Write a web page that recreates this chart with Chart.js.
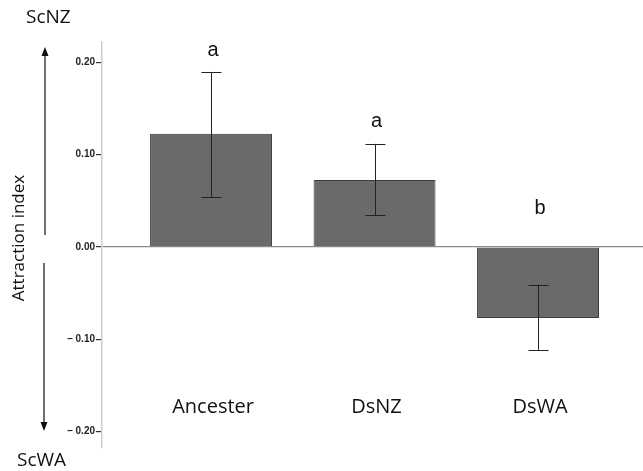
<!DOCTYPE html>
<html>
<head>
<meta charset="utf-8">
<script src="https://cdn.jsdelivr.net/npm/chart.js@4"></script>
<style>
  html, body { margin: 0; padding: 0; background: #fff; }
  #wrap { width: 643px; height: 471px; position: relative; }
</style>
</head>
<body>
<div id="wrap"><canvas id="chart"></canvas></div>
<script>
// values
const groups = ['Ancester', 'DsNZ', 'DsWA'];
const means = [0.1225, 0.0725, -0.077];
const errLow = [0.054, 0.034, -0.1116];
const errHigh = [0.1896, 0.1116, -0.041];
const letters = ['a', 'a', 'b'];
const yTicks = [-0.2, -0.1, 0, 0.1, 0.2];

// text around the plot: letters, category names, axis title, arrows
const decorations = {
    id: 'decorations',
    afterDatasetsDraw(chart) {
        const { ctx } = chart;
        const x = chart.scales.x;
        const y = chart.scales.y;

        // error bars
        ctx.save();
        ctx.strokeStyle = '#222';
        ctx.lineWidth = 1;
        groups.forEach((g, i) => {
            const px = Math.round(x.getPixelForValue(i)) + 0.5;
            const top = y.getPixelForValue(errHigh[i]);
            const bot = y.getPixelForValue(errLow[i]);
            ctx.beginPath();
            ctx.moveTo(px, top); ctx.lineTo(px, bot);
            ctx.moveTo(px - 10, Math.round(top) + 0.5); ctx.lineTo(px + 10, Math.round(top) + 0.5);
            ctx.moveTo(px - 10, Math.round(bot) + 0.5); ctx.lineTo(px + 10, Math.round(bot) + 0.5);
            ctx.stroke();
        });

        // significance letters
        ctx.fillStyle = '#111';
        ctx.font = '20px "Liberation Sans", Arial, sans-serif';
        ctx.textAlign = 'center';
        ctx.textBaseline = 'middle';
        const letterY = [0.213, 0.136, 0.042];
        groups.forEach((g, i) => {
            ctx.fillText(letters[i], x.getPixelForValue(i) + 2, y.getPixelForValue(letterY[i]));
        });

        // category names
        ctx.font = '20px "Open Sans", sans-serif';
        groups.forEach((g, i) => {
            ctx.fillText(g, x.getPixelForValue(i) + 2, 407);
        });

        // side labels
        ctx.font = '19px "Open Sans", sans-serif';
        ctx.textAlign = 'left';
        ctx.fillText('ScNZ', 26, 18);
        ctx.fillText('ScWA', 17, 461);

        ctx.save();
        ctx.translate(19, 238);
        ctx.rotate(-Math.PI / 2);
        ctx.textAlign = 'center';
        ctx.font = '17px "Open Sans", sans-serif';
        ctx.fillText('Attraction index', 0, 0);
        ctx.restore();

        // arrows
        ctx.strokeStyle = '#111';
        ctx.fillStyle = '#111';
        ctx.lineWidth = 1.2;
        ctx.beginPath();
        ctx.moveTo(45, 235); ctx.lineTo(45, 54);
        ctx.moveTo(44, 263); ctx.lineTo(44, 424);
        ctx.stroke();
        ctx.beginPath();
        ctx.moveTo(45, 47); ctx.lineTo(41.5, 56); ctx.lineTo(48.5, 56); ctx.closePath();
        ctx.moveTo(44, 431); ctx.lineTo(40.5, 422); ctx.lineTo(47.5, 422); ctx.closePath();
        ctx.fill();
        ctx.restore();
    }
};

new Chart(document.getElementById('chart'), {
    type: 'bar',
    data: {
        datasets: [{
            data: groups.map((g, i) => ({ x: i, y: means[i] })),
            backgroundColor: '#6a6a6a',
            borderColor: '#3c3c3c',
            borderWidth: 1,
            categoryPercentage: 1,
            barPercentage: 0.746
        }]
    },
    options: {
        responsive: true,
        maintainAspectRatio: false,
        animation: false,
        events: [],
        layout: { padding: { left: 62, top: 42, bottom: 23, right: 0 } },
        plugins: { legend: { display: false }, tooltip: { enabled: false } },
        scales: {
            x: {
                type: 'linear',
                display: false,
                offset: false,
                min: -0.667,
                max: 2.642,
                afterBuildTicks(s) { s.ticks = groups.map((g, i) => ({ value: i })); }
            },
            y: {
                min: -0.218,
                max: 0.222,
                afterFit(s) { s.width = 40; },
                afterBuildTicks(s) { s.ticks = yTicks.map(v => ({ value: v })); },
                border: { color: '#cfcfcf', width: 1.5 },
                grid: {
                    drawOnChartArea: true,
                    color: c => (c.tick && c.tick.value === 0 ? '#8a8a8a' : 'rgba(0,0,0,0)'),
                    lineWidth: 1.2,
                    tickColor: '#333',
                    tickLength: 6
                },
                ticks: {
                    padding: 1,
                    color: '#222',
                    font: { family: '"Liberation Sans", Arial, sans-serif', size: 10, weight: 'bold' },
                    callback: v => (v < 0 ? '\u2013 ' + Math.abs(v).toFixed(2) : v.toFixed(2))
                }
            }
        }
    },
    plugins: [decorations]
});
</script>
</body>
</html>
